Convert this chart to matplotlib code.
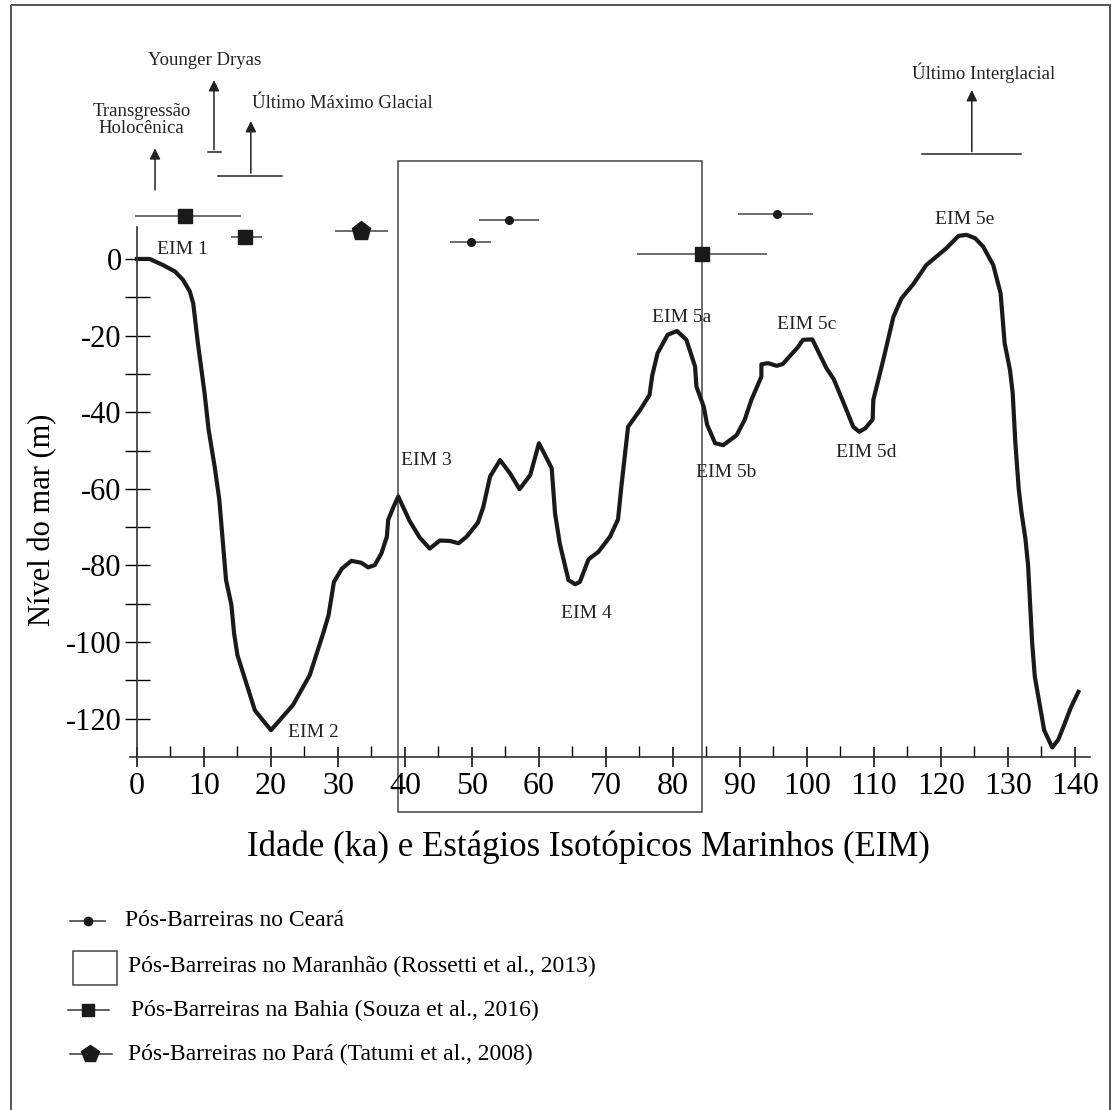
import matplotlib.pyplot as plt
from matplotlib.patches import Rectangle

plt.rcParams['font.family'] = ['Liberation Serif', 'DejaVu Serif']

# Curva do nivel do mar (idade em ka, nivel em m)
age_ka = [0, 1.9, 3.9, 5.7, 6.9, 7.9, 8.4, 9.1, 10.1, 10.7, 11.6, 12.3, 12.8, 13.3,
          14.1, 14.5, 15.0, 16.1, 17.6, 20.0, 23.3, 25.8, 27.8, 28.6, 29.4, 30.6,
          32.0, 33.5, 34.5, 35.5, 36.5, 37.3, 37.5, 38.3, 39.0, 40.7, 42.2, 43.7,
          45.2, 46.7, 48.0, 49.2, 50.9, 51.7, 52.7, 54.2, 55.7, 57.1, 58.7, 60.0,
          61.9, 62.4, 63.1, 64.4, 65.4, 66.1, 67.4, 68.9, 70.6, 71.8, 72.3, 73.3,
          75.1, 76.5, 76.9, 77.7, 79.2, 80.6, 82.0, 83.3, 83.5, 84.6, 85.1, 86.3,
          87.5, 89.5, 90.7, 91.7, 93.2, 93.2, 94.2, 95.5, 96.4, 98.7, 99.4, 100.8,
          102.9, 104.0, 105.4, 106.9, 107.8, 108.7, 109.8, 109.9, 110.9, 111.5,
          112.9, 114.1, 115.9, 117.8, 120.8, 122.6, 123.8, 125.1, 126.3, 127.8,
          128.9, 129.5, 130.3, 130.7, 131.1, 131.6, 132.0, 132.6, 133.0, 133.3,
          133.6, 134.0, 134.7, 135.4, 136.6, 137.5, 138.3, 139.4, 140.5]
sea_level_m = [0, 0, -1.6, -3.3, -5.5, -8.5, -11.6, -22.0, -35.1, -44.6, -54.2, -62.9,
               -73.4, -83.8, -90.3, -97.7, -103.4, -109.5, -117.8, -123.0, -116.4,
               -108.6, -97.7, -93.0, -84.3, -80.8, -78.8, -79.3, -80.5, -79.9, -76.8,
               -72.5, -68.1, -64.7, -62.0, -68.4, -72.7, -75.6, -73.5, -73.6, -74.2,
               -72.5, -68.8, -64.7, -56.8, -52.5, -56.0, -60.1, -56.4, -48.1, -54.6,
               -66.4, -74.2, -83.8, -84.9, -84.3, -78.4, -76.4, -72.5, -68.0, -59.4,
               -43.8, -39.4, -35.5, -30.5, -24.6, -19.8, -18.8, -21.1, -28.1, -33.3,
               -38.6, -43.3, -48.1, -48.6, -46.0, -42.0, -36.8, -30.7, -27.5, -27.2,
               -27.9, -27.4, -22.9, -21.1, -21.0, -28.5, -31.4, -37.3, -43.8, -45.1,
               -44.2, -41.9, -36.8, -29.8, -25.5, -15.1, -10.3, -6.5, -1.6, 2.8, 6.0,
               6.3, 5.4, 3.2, -1.6, -9.0, -22.0, -29.0, -35.0, -48.0, -60.0, -66.0,
               -73.0, -80.0, -90.0, -100.0, -109.0, -116.0, -123.0, -127.5, -125.5,
               -122.0, -117.0, -113.0]

# Idades Pos-Barreiras (centro, minimo, maximo) e nivel de plotagem
ceara_age = [49.8, 55.5, 95.5]
ceara_min = [46.7, 51.1, 89.7]
ceara_max = [52.8, 60.0, 100.9]
ceara_level = [4.5, 10.1, 11.7]

bahia_age = [7.2, 16.2, 84.3]
bahia_min = [-0.3, 14.0, 74.6]
bahia_max = [15.5, 18.7, 94.1]
bahia_level = [11.2, 5.7, 1.3]

para_age = [33.5]
para_min = [29.6]
para_max = [37.5]
para_level = [7.4]

maranhao_age = [39.0, 84.3]
maranhao_level = [-144.4, 25.6]

eim_labels = ['EIM 1', 'EIM 2', 'EIM 3', 'EIM 4', 'EIM 5a', 'EIM 5b', 'EIM 5c', 'EIM 5d', 'EIM 5e']
eim_age = [6.8, 26.3, 43.2, 67.1, 81.3, 88.0, 99.9, 108.8, 123.6]
eim_level = [2.5, -123.6, -52.6, -92.5, -15.3, -55.7, -17.2, -50.6, 10.4]

x_ticks = list(range(0, 141, 10))
y_ticks = list(range(-120, 1, 20))

fig = plt.figure(figsize=(11.13, 11.10), dpi=100)

# camada de fundo para moldura e legenda (em pixels)
lax = fig.add_axes([0, 0, 1, 1])
lax.set_xlim(0, 1113)
lax.set_ylim(1110, 0)
lax.axis('off')
lax.add_patch(Rectangle((11, 5), 1099, 1120, fill=False, lw=1.4, ec='#555555', clip_on=False))

ax = fig.add_axes([0.1164, 0.318, 0.8633, 0.4777])
ax.patch.set_alpha(0)
ax.plot(age_ka, sea_level_m, color='#1a1a1a', lw=3, solid_joinstyle='round')
ax.set_xlim(-1.1, 142.3)
ax.set_ylim(-130, 8.4)
for s in ['top', 'right']:
    ax.spines[s].set_visible(False)
ax.spines['left'].set_position(('data', 0))
for s in ['left', 'bottom']:
    ax.spines[s].set_color('#333333')
    ax.spines[s].set_linewidth(1.2)

ax.set_xticks(x_ticks)
ax.set_xticks(range(5, 141, 10), minor=True)
ax.set_yticks(y_ticks)
ax.set_yticks(range(-110, 0, 20), minor=True)
ax.tick_params(axis='x', which='major', direction='inout', length=14, width=1.1, labelsize=23, pad=4)
ax.tick_params(axis='x', which='minor', direction='in', length=8, width=1.0)
ax.tick_params(axis='y', which='both', direction='inout', length=18, width=1.0, labelsize=22, pad=2)
ax.set_yticklabels([str(v) for v in y_ticks])
ax.set_ylabel('Nível do mar (m)', fontsize=22)
ax.yaxis.set_label_coords(-0.0756, 0.447)
ax.set_xlabel('Idade (ka) e Estágios Isotópicos Marinhos (EIM)', fontsize=25)
ax.xaxis.set_label_coords(0.478, -0.138)

# caixa do Maranhao
ax.add_patch(Rectangle((maranhao_age[0], maranhao_level[0]),
                       maranhao_age[1] - maranhao_age[0],
                       maranhao_level[1] - maranhao_level[0],
                       fill=False, lw=1.1, ec='#444444', clip_on=False))

# barras de idade
err_kw = dict(color='#444444', lw=1.1, clip_on=False)
ax.hlines(ceara_level, ceara_min, ceara_max, **err_kw)
ax.hlines(bahia_level, bahia_min, bahia_max, **err_kw)
ax.hlines(para_level, para_min, para_max, **err_kw)
ax.plot(ceara_age, ceara_level, 'o', color='#1a1a1a', ms=5.5, clip_on=False)
ax.plot(bahia_age, bahia_level, 's', color='#1a1a1a', ms=9.5, clip_on=False)
ax.plot(para_age, para_level, 'p', color='#1a1a1a', ms=14, clip_on=False)

for lab, xa, ya in zip(eim_labels, eim_age, eim_level):
    ax.text(xa, ya, lab, fontsize=14, ha='center', va='center', color='#222222')

# setas dos eventos
arrow_kw = dict(arrowstyle='-|>', mutation_scale=16, lw=1.1, color='#222222')
ax.annotate('', xy=(2.7, 29.6), xytext=(2.7, 17.3), arrowprops=arrow_kw, annotation_clip=False)
ax.text(0.7, 36.3, 'Transgressão\nHolocênica', fontsize=13.5, ha='center', va='center',
        linespacing=1.05, color='#222222')

ax.annotate('', xy=(11.5, 47.4), xytext=(11.5, 27.8), arrowprops=arrow_kw, annotation_clip=False)
ax.plot([10.6, 12.5], [27.8, 27.8], color='#222222', lw=1.1, clip_on=False)
ax.text(10.1, 51.7, 'Younger Dryas', fontsize=13.5, ha='center', va='center', color='#222222')

ax.annotate('', xy=(17.0, 36.7), xytext=(17.0, 21.7), arrowprops=arrow_kw, annotation_clip=False)
ax.plot([12.1, 21.7], [21.7, 21.7], color='#222222', lw=1.1, clip_on=False)
ax.text(17.2, 40.5, 'Último Máximo Glacial', fontsize=13.5, ha='left', va='center', color='#222222')

ax.annotate('', xy=(124.6, 44.8), xytext=(124.6, 27.3), arrowprops=arrow_kw, annotation_clip=False)
ax.plot([117.1, 132.0], [27.3, 27.3], color='#222222', lw=1.1, clip_on=False)
ax.text(126.3, 48.7, 'Último Interglacial', fontsize=13.5, ha='center', va='center', color='#222222')

# legenda
leg_fs = 17
lax.plot([70, 105], [921, 921], color='#333333', lw=1.1)
lax.plot([88], [921], 'o', color='#1a1a1a', ms=6)
lax.text(125, 921, 'Pós-Barreiras no Ceará', fontsize=leg_fs, va='center')
lax.add_patch(Rectangle((73, 951), 44, 34, fill=False, lw=1.1, ec='#444444'))
lax.text(128, 966, 'Pós-Barreiras no Maranhão (Rossetti et al., 2013)', fontsize=leg_fs, va='center')
lax.plot([68, 109], [1010, 1010], color='#333333', lw=1.1)
lax.plot([88], [1010], 's', color='#1a1a1a', ms=8)
lax.text(131, 1010, 'Pós-Barreiras na Bahia (Souza et al., 2016)', fontsize=leg_fs, va='center')
lax.plot([70, 112], [1054, 1054], color='#333333', lw=1.1)
lax.plot([90], [1054], 'p', color='#1a1a1a', ms=13)
lax.text(128, 1054, 'Pós-Barreiras no Pará (Tatumi et al., 2008)', fontsize=leg_fs, va='center')

fig.savefig('out.png', dpi=100)
